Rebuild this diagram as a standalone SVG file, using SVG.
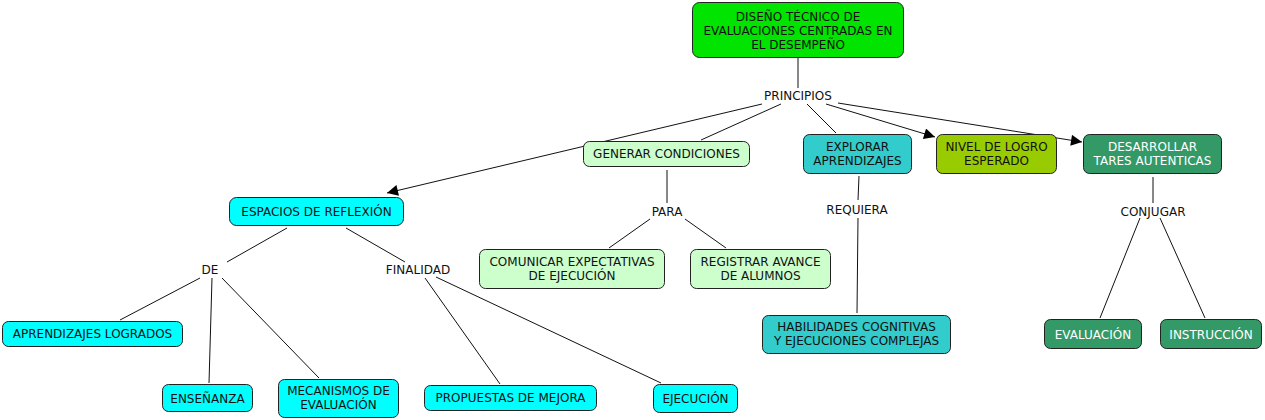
<svg xmlns="http://www.w3.org/2000/svg" width="1265" height="420" viewBox="0 0 1265 420">
<style>
text{font-family:"DejaVu Sans",Verdana,sans-serif;font-size:12px;fill:#111;text-anchor:middle}
.n{stroke:#222;stroke-width:1}
.w{fill:#fff}
#conn line{stroke:#111;stroke-width:1}
</style>
<defs>
<marker id="ah" viewBox="0 0 10 10" refX="10" refY="5" markerWidth="13" markerHeight="11" markerUnits="userSpaceOnUse" orient="auto">
<path d="M0,0L10,5L0,10z" fill="#000"/>
</marker>
</defs>
<rect width="1265" height="420" fill="#fff"/>
<g id="conn">
<line x1="798" y1="58" x2="798" y2="88"/>
<line x1="762" y1="104" x2="387" y2="193" marker-end="url(#ah)"/>
<line x1="781" y1="104" x2="701" y2="140"/>
<line x1="807" y1="104" x2="836" y2="133"/>
<line x1="826" y1="104" x2="935" y2="137" marker-end="url(#ah)"/>
<line x1="838" y1="103" x2="1082" y2="142" marker-end="url(#ah)"/>
<line x1="667" y1="170" x2="667" y2="203"/>
<line x1="650" y1="219" x2="609" y2="248"/>
<line x1="685" y1="219" x2="726" y2="248"/>
<line x1="859" y1="176" x2="858" y2="200"/>
<line x1="858" y1="218" x2="857" y2="313"/>
<line x1="1153" y1="177" x2="1153" y2="203"/>
<line x1="1140" y1="218" x2="1100" y2="318"/>
<line x1="1160" y1="218" x2="1205" y2="318"/>
<line x1="287" y1="228" x2="227" y2="262"/>
<line x1="346" y1="228" x2="405" y2="262"/>
<line x1="200" y1="278" x2="120" y2="320"/>
<line x1="212" y1="278" x2="209" y2="383"/>
<line x1="222" y1="278" x2="319" y2="378"/>
<line x1="425" y1="278" x2="500" y2="384"/>
<line x1="436" y1="277" x2="661" y2="383"/>
</g>
<g id="n-main"><rect class="n" x="692.5" y="2.5" width="211" height="55" rx="7" fill="#00e400"/><text x="798" y="21">DISEÑO TÉCNICO DE</text><text x="798" y="35">EVALUACIONES CENTRADAS EN</text><text x="798" y="49">EL DESEMPEÑO</text></g>
<g id="l-principios"><text x="798" y="100">PRINCIPIOS</text></g>
<g id="n-generar"><rect class="n" x="583.5" y="141.5" width="166" height="25" rx="6" fill="#ccffcc"/><text x="666.5" y="158">GENERAR CONDICIONES</text></g>
<g id="n-explorar"><rect class="n" x="803.5" y="134.5" width="108" height="39" rx="6" fill="#33cccc"/><text x="857.5" y="151">EXPLORAR</text><text x="857.5" y="165">APRENDIZAJES</text></g>
<g id="n-nivel"><rect class="n" x="936.5" y="134.5" width="120" height="39" rx="6" fill="#99cc00"/><text x="996.5" y="151">NIVEL DE LOGRO</text><text x="996.5" y="165">ESPERADO</text></g>
<g id="n-desarrollar"><rect class="n" x="1083.5" y="134.5" width="138" height="39" rx="6" fill="#339966"/><text class="w" x="1152.5" y="151">DESARROLLAR</text><text class="w" x="1152.5" y="165">TARES AUTENTICAS</text></g>
<g id="n-espacios"><rect class="n" x="229.5" y="197.5" width="174" height="28" rx="7" fill="#00ffff"/><text x="316.5" y="216">ESPACIOS DE REFLEXIÓN</text></g>
<g id="l-para"><text x="667" y="216">PARA</text></g>
<g id="l-requiera"><text x="857" y="214">REQUIERA</text></g>
<g id="l-conjugar"><text x="1153" y="216">CONJUGAR</text></g>
<g id="l-de"><text x="210" y="274">DE</text></g>
<g id="l-finalidad"><text x="418" y="274">FINALIDAD</text></g>
<g id="n-comunicar"><rect class="n" x="479.5" y="249.5" width="185" height="39" rx="6" fill="#ccffcc"/><text x="572" y="266">COMUNICAR EXPECTATIVAS</text><text x="572" y="280">DE EJECUCIÓN</text></g>
<g id="n-registrar"><rect class="n" x="690.5" y="249.5" width="140" height="39" rx="6" fill="#ccffcc"/><text x="760.5" y="266">REGISTRAR AVANCE</text><text x="760.5" y="280">DE ALUMNOS</text></g>
<g id="n-habilidades"><rect class="n" x="762.5" y="315.5" width="188" height="38" rx="6" fill="#33cccc"/><text x="856.5" y="331">HABILIDADES COGNITIVAS</text><text x="856.5" y="345">Y EJECUCIONES COMPLEJAS</text></g>
<g id="n-aprendizajes"><rect class="n" x="2.5" y="321.5" width="180" height="25" rx="6" fill="#00ffff"/><text x="92.5" y="338">APRENDIZAJES LOGRADOS</text></g>
<g id="n-ensenanza"><rect class="n" x="162.5" y="384.5" width="90" height="27" rx="6" fill="#00ffff"/><text x="207.5" y="403">ENSEÑANZA</text></g>
<g id="n-mecanismos"><rect class="n" x="278.5" y="379.5" width="120" height="38" rx="6" fill="#00ffff"/><text x="338.5" y="395">MECANISMOS DE</text><text x="338.5" y="409">EVALUACIÓN</text></g>
<g id="n-propuestas"><rect class="n" x="424.5" y="385.5" width="172" height="25" rx="6" fill="#00ffff"/><text x="510.5" y="402">PROPUESTAS DE MEJORA</text></g>
<g id="n-ejecucion"><rect class="n" x="653.5" y="384.5" width="84" height="28" rx="6" fill="#00ffff"/><text x="695.5" y="403">EJECUCIÓN</text></g>
<g id="n-evaluacion"><rect class="n" x="1044.5" y="319.5" width="97" height="29" rx="6" fill="#339966"/><text class="w" x="1093" y="339">EVALUACIÓN</text></g>
<g id="n-instruccion"><rect class="n" x="1160.5" y="319.5" width="101" height="29" rx="6" fill="#339966"/><text class="w" x="1211" y="339">INSTRUCCIÓN</text></g>
</svg>
